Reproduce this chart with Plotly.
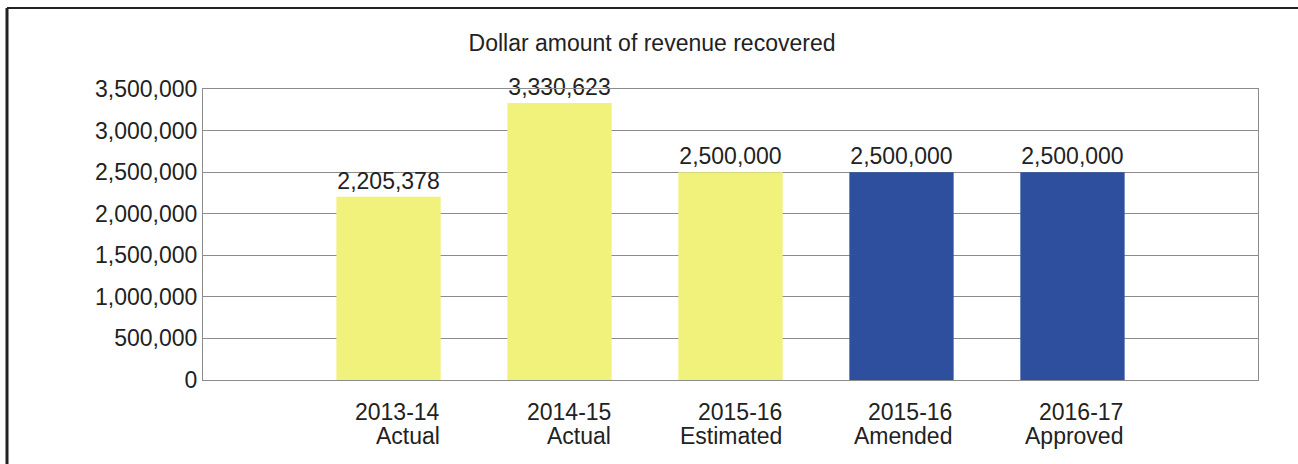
import plotly.graph_objects as go

categories = ["2013-14 Actual", "2014-15 Actual", "2015-16 Estimated", "2015-16 Amended", "2016-17 Approved"]
label_years = ["2013-14", "2014-15", "2015-16", "2015-16", "2016-17"]
label_status = ["Actual", "Actual", "Estimated", "Amended", "Approved"]
values = [2205378, 3330623, 2500000, 2500000, 2500000]
bar_colors = ["#F0F27C", "#F0F27C", "#F0F27C", "#2E4E9E", "#2E4E9E"]
y_ticks = [0, 500000, 1000000, 1500000, 2000000, 2500000, 3000000, 3500000]

FONT = "Liberation Sans, Arial, sans-serif"
TXT = "#222222"
FS = 23

fig = go.Figure()
fig.add_trace(go.Bar(
    x=categories, y=values,
    marker=dict(color=bar_colors, line=dict(width=0)),
    width=0.61,
    text=[f"{v:,}" for v in values],
    textposition="outside",
    textfont=dict(family=FONT, size=FS, color=TXT),
    cliponaxis=False,
    hoverinfo="skip",
))

annotations = []
for cat, yr, st in zip(categories, label_years, label_status):
    annotations.append(dict(x=cat, xref="x", y=0, yref="paper", text=yr, showarrow=False,
                            xanchor="right", yanchor="middle", xshift=53, yshift=-32,
                            font=dict(family=FONT, size=FS, color=TXT)))
    annotations.append(dict(x=cat, xref="x", y=0, yref="paper", text=st, showarrow=False,
                            xanchor="right", yanchor="middle", xshift=53, yshift=-56,
                            font=dict(family=FONT, size=FS, color=TXT)))

fig.update_layout(
    width=1298, height=464,
    margin=dict(l=203, r=40, t=89, b=84),
    paper_bgcolor="white", plot_bgcolor="white",
    showlegend=False,
    title=dict(text="Dollar amount of revenue recovered", x=0.4256, xref="paper", xanchor="center",
               y=1 - 43 / 464, yref="container", yanchor="middle",
               font=dict(family=FONT, size=FS, color=TXT)),
    font=dict(family=FONT, size=FS, color=TXT),
    xaxis=dict(range=[-1.085, 5.085], showticklabels=False, showgrid=False, ticks="",
               showline=True, linecolor="#8c8c8c", linewidth=1, mirror=True, zeroline=False),
    yaxis=dict(range=[0, 3500000], tickvals=y_ticks, tickformat=",d", showgrid=True,
               gridcolor="#8c8c8c", gridwidth=1, showline=True, linecolor="#8c8c8c", linewidth=1,
               mirror=True, zeroline=False, ticks="", ticklen=0,
               tickfont=dict(family=FONT, size=FS, color=TXT)),
    annotations=annotations,
    shapes=[
        dict(type="line", xref="paper", yref="paper", x0=(7 - 203) / 1055, x1=(1298 - 203) / 1055,
             y0=(380 - 8) / 291, y1=(380 - 8) / 291, line=dict(color="#222222", width=2)),
        dict(type="line", xref="paper", yref="paper", x0=(7 - 203) / 1055, x1=(7 - 203) / 1055,
             y0=(380 - 8) / 291, y1=(380 - 466) / 291, line=dict(color="#222222", width=3)),
    ],
)

fig.write_html("out.html", config={"displayModeBar": False},
               post_script="document.body.style.margin='0';document.body.style.overflow='hidden';")
